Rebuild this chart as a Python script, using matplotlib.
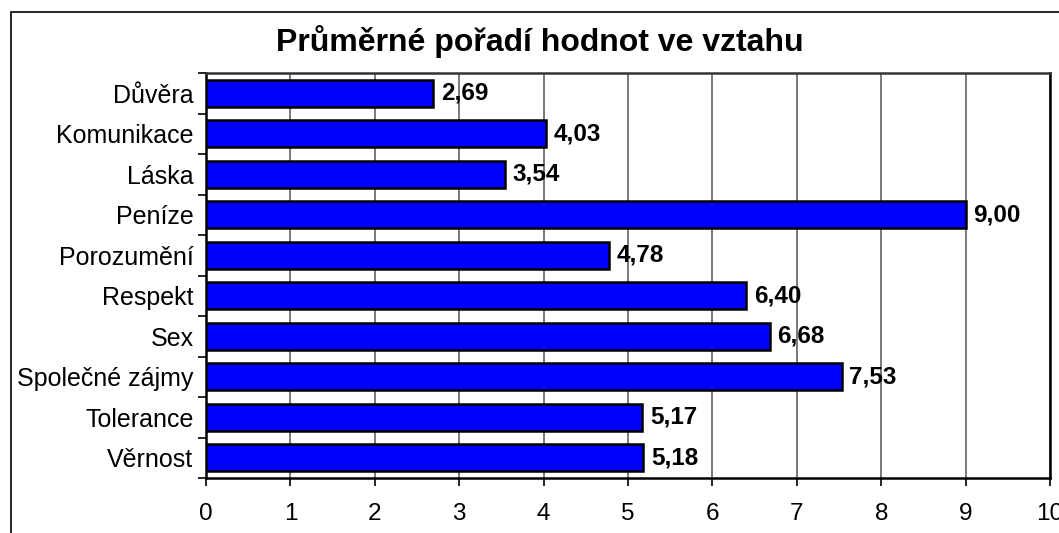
import numpy as np
import matplotlib.pyplot as plt
from matplotlib.patches import Rectangle

plt.rcParams['font.family'] = ['Liberation Sans', 'DejaVu Sans']

# data
categories = ['Důvěra', 'Komunikace', 'Láska', 'Peníze', 'Porozumění',
              'Respekt', 'Sex', 'Společné zájmy', 'Tolerance', 'Věrnost']
values = [2.69, 4.03, 3.54, 9.00, 4.78, 6.40, 6.68, 7.53, 5.17, 5.18]
x_ticks = [0, 1, 2, 3, 4, 5, 6, 7, 8, 9, 10]

W, H = 1059, 533
fig = plt.figure(figsize=(W / 100, H / 100), dpi=100)
ax = fig.add_axes([206 / W, 1 - 478 / H, (1050 - 206) / W, (478 - 73) / H])

# outer chart frame (cut off at right and bottom, as in the original)
fig.patches.append(Rectangle((11 / W, -0.1), 1.2, 1 - 12 / H + 0.1,
                             transform=fig.transFigure, fill=False,
                             edgecolor='black', linewidth=1.2))

y = np.arange(len(categories))
ax.barh(y, values, height=0.66, color='#0000ff', edgecolor='black',
        linewidth=1.8, zorder=3)

for yi, v in zip(y, values):
    ax.text(v + 0.09, yi, f'{v:.2f}'.replace('.', ','), va='center',
            ha='left', fontsize=17.5, fontweight='bold', zorder=4)

ax.set_xlim(0, 10)
ax.set_ylim(len(categories) - 0.5, -0.5)
ax.set_xticks(x_ticks)
ax.set_xticklabels([str(t) for t in x_ticks], fontsize=17.5)
ax.set_yticks(y)
ax.set_yticklabels(categories, fontsize=18)
ax.tick_params(axis='y', length=0, pad=9)
ax.set_yticks(np.arange(-0.5, len(categories), 1), minor=True)
ax.tick_params(axis='y', which='minor', length=6, width=1.2, direction='out')
ax.tick_params(axis='x', length=6, width=1.2, direction='out', pad=12)

ax.grid(axis='x', color='#555555', linewidth=1.1, zorder=0)
for s in ax.spines.values():
    s.set_linewidth(1.8)
ax.spines['top'].set_color('#333333')

fig.text(540 / W, 1 - 42 / H, 'Průměrné pořadí hodnot ve vztahu',
         ha='center', va='center', fontsize=23, fontweight='bold')

fig.savefig('out.png', dpi=100)
